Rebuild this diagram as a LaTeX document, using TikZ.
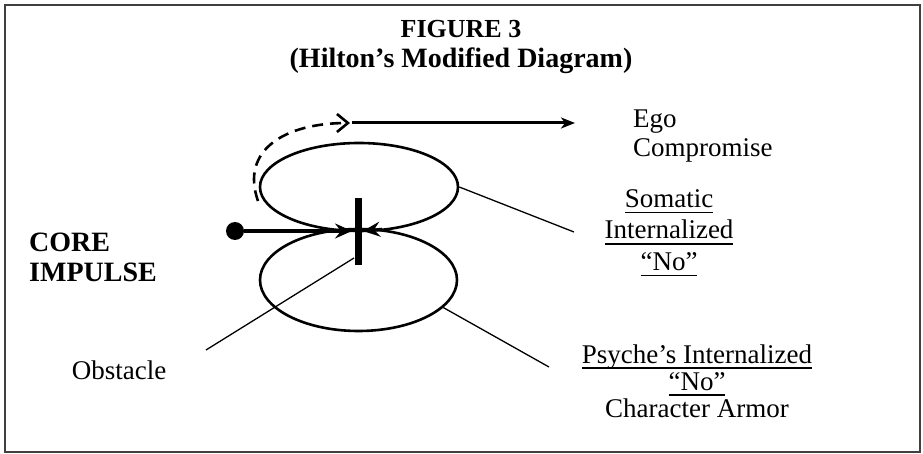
\documentclass[tikz,border=0pt]{standalone}
\usepackage{fontspec}
\setmainfont{Liberation Serif}
\usetikzlibrary{arrows.meta,shapes.geometric}

% underline drawn a fixed distance below the baseline
\newsavebox\ulbox
\newcommand\ulx[1]{\sbox\ulbox{#1}\rlap{\rule[-6pt]{\wd\ulbox}{1.8pt}}\usebox\ulbox}

\tikzset{
  frame/.style={line width=2.5pt, draw=black!75},
  txt/.style={inner sep=0pt, font=\fontsize{27}{29}\selectfont},
  btxt/.style={inner sep=0pt, font=\fontsize{28}{30}\selectfont\bfseries},
  loop/.style={ellipse, draw, line width=2.6pt, inner sep=0pt},
  leader/.style={line width=1.3pt},
  tip/.style={-{Stealth[length=17pt,width=15pt,inset=6pt]}},
}

\begin{document}
\begin{tikzpicture}[x=1pt,y=-1pt]
\useasboundingbox (0,0) rectangle (923,454);
\fill[white] (0,0) rectangle (923,454);
\draw[frame] (5,5) rectangle (920,452);

% title
\node[btxt, font=\fontsize{26}{30}\selectfont\bfseries] (t1) at (461,29) {FIGURE 3};
\node[btxt] (t2) at (461,61) {(Hilton’s Modified Diagram)};

% the two loops
\node[loop, minimum width=198pt, minimum height=88pt] (upper) at (359,187) {};
\node[loop, minimum width=197pt, minimum height=102pt] (lower) at (358.5,280) {};

% obstacle bar
\draw[line width=7pt] (358,198) -- (358,265);
\coordinate (barfoot) at (354,258);

% core impulse arrow
\node[circle, fill, minimum size=18pt, inner sep=0pt] (dot) at (235,231) {};
\coordinate (hit) at (352,231);
\draw[line width=4pt, tip] (dot) -- (hit);
\coordinate (back) at (363,231);
\draw[line width=2.6pt, tip] (382,229) -- (back);

% deflection over the top and ego compromise
\coordinate (dstart) at (258,201);
\coordinate (dend) at (350,123);
\draw[line width=2.6pt, dash pattern=on 11pt off 7pt, -{Straight Barb[length=11pt,width=18pt]}]
  (dstart) .. controls (240,150) and (285,123) .. (dend);
\coordinate (estart) at (352,123);
\coordinate (eend) at (575,123);
\draw[line width=3pt, -{Stealth[length=14pt,width=11pt,inset=4pt]}] (estart) -- (eend);

% labels
\node[txt, anchor=west, align=left] (ego) at (633,136) {Ego\\Compromise};
\node[btxt, anchor=west, align=left] (core) at (29,257) {CORE\\IMPULSE};
\node[txt] (obst) at (119,370) {Obstacle};
\node[txt, align=center, font=\fontsize{27}{31.5}\selectfont] (soma) at (669,233)
  {\ulx{Somatic}\\\ulx{Internalized}\\\ulx{“No”}};
\node[txt, align=center, font=\fontsize{27}{27}\selectfont] (psyche) at (697,381)
  {\ulx{Psyche’s Internalized}\\\ulx{“No”}\\Character Armor};

% leader lines
\coordinate (somaend) at (574,232);
\coordinate (psyend) at (549,367);
\coordinate (obstend) at (206,350);
\draw[leader] (upper.east) -- (somaend);
\draw[leader] (lower.-18) -- (psyend);
\draw[leader] (barfoot) -- (obstend);
\end{tikzpicture}
\end{document}
